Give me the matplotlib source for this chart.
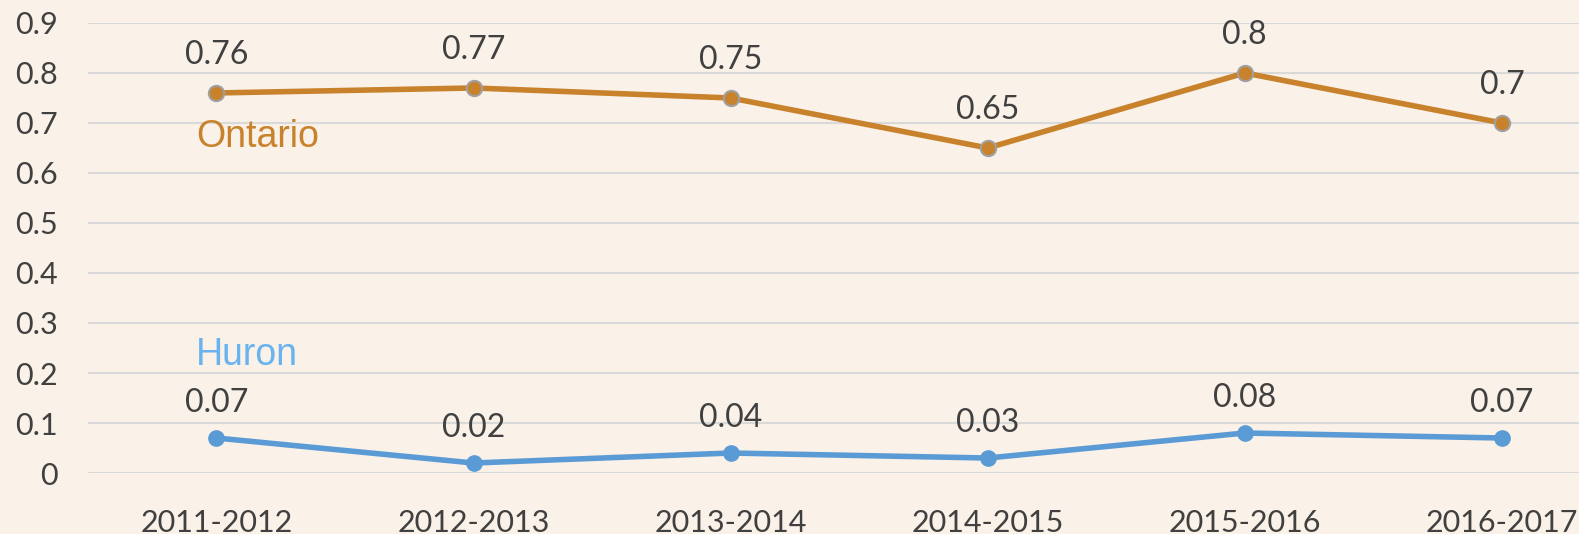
import numpy as np
import matplotlib.pyplot as plt

# Dados do gráfico
periodos = ["2011-2012", "2012-2013", "2013-2014", "2014-2015", "2015-2016", "2016-2017"]
ontario = [0.76, 0.77, 0.75, 0.65, 0.80, 0.70]
huron = [0.07, 0.02, 0.04, 0.03, 0.08, 0.07]
ontario_rotulos = ["0.76", "0.77", "0.75", "0.65", "0.8", "0.7"]
huron_rotulos = ["0.07", "0.02", "0.04", "0.03", "0.08", "0.07"]
y_ticks = [0, 0.1, 0.2, 0.3, 0.4, 0.5, 0.6, 0.7, 0.8, 0.9]

fundo = '#FAF1E8'
cor_ontario = '#C8822C'
cor_huron = '#5B9BD5'
cor_texto = '#404040'
fonte = 'Lato'

fig = plt.figure(figsize=(15.79, 5.34), dpi=100, facecolor=fundo)
ax = fig.add_axes([0.0557, 0.1142, 0.9443, 0.8428])
ax.set_facecolor(fundo)

x = np.arange(len(periodos))

ax.plot(x, ontario, color=cor_ontario, linewidth=4, marker='o', markersize=11,
        markerfacecolor=cor_ontario, markeredgecolor='#A0A0A0', markeredgewidth=1.5,
        zorder=3, clip_on=False)
ax.plot(x, huron, color=cor_huron, linewidth=4, marker='o', markersize=11,
        markerfacecolor=cor_huron, markeredgecolor=cor_huron,
        zorder=3, clip_on=False)

# Rótulos de dados
for xi, v, r in zip(x, ontario, ontario_rotulos):
    ax.annotate(r, (xi, v), xytext=(0, 27), textcoords='offset points',
                ha='center', va='center', fontsize=23, color=cor_texto,
                family=fonte)
for xi, v, r in zip(x, huron, huron_rotulos):
    ax.annotate(r, (xi, v), xytext=(0, 25), textcoords='offset points',
                ha='center', va='center', fontsize=23, color=cor_texto,
                family=fonte)

# Nomes das séries
ax.text(0.16, 0.672, "Ontario", color=cor_ontario, fontsize=27,
        family='Liberation Sans', ha='center', va='center')
ax.text(0.12, 0.236, "Huron", color='#6BB3EE', fontsize=27,
        family='Liberation Sans', ha='center', va='center')

ax.set_xlim(-0.5, 5.3)
ax.set_ylim(0, 0.9)
ax.set_yticks(y_ticks)
ax.set_yticklabels([f"{t:g}" for t in y_ticks])
ax.set_xticks(x)
ax.set_xticklabels(periodos)

for lbl in ax.get_xticklabels() + ax.get_yticklabels():
    lbl.set_family(fonte)
    lbl.set_fontsize(22)
    lbl.set_color(cor_texto)

ax.tick_params(axis='y', length=0, pad=22)
ax.tick_params(axis='x', length=0, pad=26)
ax.grid(axis='y', color='#D9D9D9', linewidth=1.5, zorder=0)
ax.set_axisbelow(True)
for s in ax.spines.values():
    s.set_visible(False)

fig.savefig('out.png', dpi=100, facecolor=fundo)
